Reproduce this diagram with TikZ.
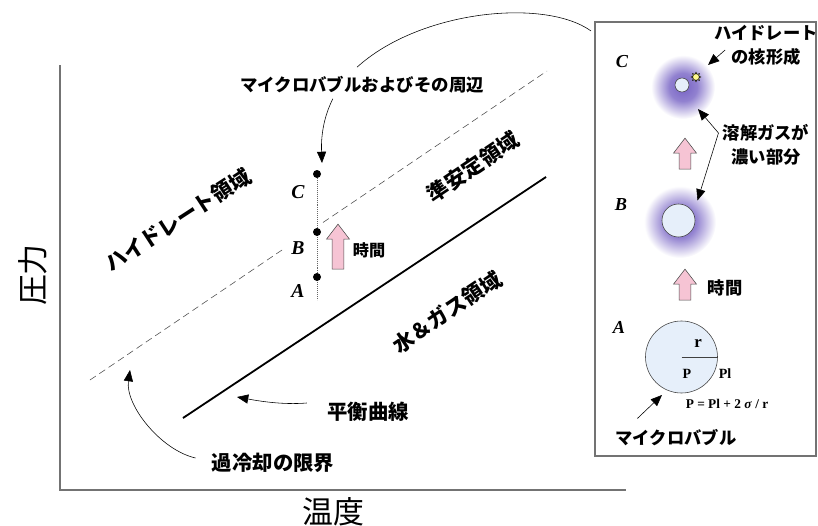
\documentclass[tikz,border=0pt]{standalone}
\usepackage{fontspec}
\setmainfont{Liberation Serif}
\newfontfamily\jp{Noto Sans CJK JP}
\usetikzlibrary{arrows.meta, shapes.arrows, shapes.geometric, calc}

\definecolor{pinkfill}{RGB}{246,196,212}
\definecolor{bubblefill}{RGB}{230,239,250}
\definecolor{glowc}{RGB}{118,98,196}
\pgfdeclareradialshading{glow}{\pgfpoint{0bp}{0bp}}{color(0bp)=(glowc); color(11bp)=(glowc!80!white); color(25bp)=(white); color(50bp)=(white)}

\begin{document}
\begin{tikzpicture}[x = 0.025cm, y = -0.025cm,
		jpb/.style = {font = \jp\bfseries\fontsize{#1}{#1}\selectfont, inner sep = 0},
		jpr/.style = {font = \jp\fontsize{#1}{#1}\selectfont, inner sep = 0},
		letter/.style = {font = \bfseries\itshape\fontsize{#1}{#1}\selectfont, inner sep = 0},
		serif/.style = {font = \bfseries\fontsize{#1}{#1}\selectfont, inner sep = 0},
		dot/.style = {circle, fill, inner sep = 0, minimum size = 0.2cm},
		uparrow/.style = {single arrow, draw = black!70, fill = pinkfill, rotate = 90, inner sep = 0.14cm, single arrow head extend = 0.14cm, single arrow tip angle = 75, minimum height = #1},
		bubble/.style = {circle, draw = black!75, fill = bubblefill, inner sep = 0, minimum size = #1},
		pointer/.style = {-{Triangle[length = 8pt, width = 6.5pt]}, thin},
		axis/.style = {draw = black!55, line width = 1.2pt}]
	\useasboundingbox (0, 0) rectangle (818, 526);

	% glows round the bubbles
	\shade[shading = glow] (683, 87) circle (32);
	\shade[shading = glow] (680, 222) circle (36);

	% axes
	\coordinate (o) at (60, 490);
	\draw[axis] (60, 65) -- (o) -- (626, 490);
	\node[jpr = 22, rotate = 90] (ylab) at (33, 275) {圧力};
	\node[jpr = 22] (xlab) at (333, 512) {温度};

	% equilibrium curve and supercooling limit
	\draw[line width = 1.3pt] (183, 418) -- (546, 177);
	\draw[black!70, dash pattern = on 5pt off 3pt] (90, 380) -- (282, 250) (323, 222.5) -- (547, 71);

	\node[jpb = 15, rotate = 33] (hr) at (178, 220) {ハイドレート領域};
	\node[jpb = 15, rotate = 34] (ms) at (473, 167) {準安定領域};
	\node[jpb = 15, rotate = 34] (wg) at (447, 312) {水＆ガス領域};

	% path of a bubble
	\draw[densely dotted, black!60] (317, 174) -- (317, 300);
	\foreach \n/\y in {A/277, B/232, C/174}
		\node[dot] (d\n) at (317, \y) {};
	\foreach \n/\y in {A/291, B/248, C/192}
		\node[letter = 14] (l\n) at (298, \y) {\n};
	\node[uparrow = 1.125cm] (up1) at (338, 250.5) {};
	\node[jpb = 11.5] (t1) at (369, 250) {時間};

	\node[jpb = 12.4] (mbs) at (362, 85) {マイクロバブルおよびその周辺};
	\draw[pointer] ($(mbs.south west) + (93, 5)$) .. controls +(-10, 20) and +(-1, -25) .. ($(dC) + (5, -11)$);

	\node[jpb = 14.5] (eq) at (368, 412) {平衡曲線};
	\coordinate (eqp) at (237, 397);
	\draw[pointer] ($(eq.west) + (-20, -9)$) .. controls +(-25, 2) and +(22, 4) .. (eqp);

	\node[jpb = 14.5] (sc) at (273, 463) {過冷却の限界};
	\coordinate (scp) at (130, 370);
	\draw[pointer] ($(sc.west) + (-16, -5)$) .. controls +(-35, -8) and +(-5, 35) .. (scp);

	% close-up box
	\node[draw = black!55, line width = 1.5pt, inner sep = 0, minimum width = 5.525cm, minimum height = 10.85cm] (box) at (705.5, 239) {};
	\draw[thin] ($(mbs.north) + (-5, -9)$) .. controls (420, 10) and (545, -2) .. ($(box.north west) + (-3, 10)$);

	\node[letter = 13] (bl3) at (622, 62) {C};
	\node[letter = 13] (bl2) at (621, 205) {B};
	\node[letter = 13] (bl1) at (619, 327) {A};

	\node[bubble = 0.35cm] (bC) at (682, 85) {};
	\node[star, star points = 8, star point ratio = 1.7, draw, thin, fill = yellow!45, inner sep = 0, minimum size = 0.24cm] (nuc) at (696, 77) {};
	\node[bubble = 0.825cm] (bB) at (678.5, 220.5) {};
	\node[bubble = 1.8cm] (bA) at (681.5, 357) {};

	\node[jpb = 12.3] (hyd1) at (766, 33) {ハイドレート};
	\node[jpb = 12.3] (hyd2) at (766, 57) {の核形成};
	\draw[pointer] ($(hyd2.west) + (-6, -7)$) -- ($(nuc) + (12, -12)$);

	\node[jpb = 12.3] (gas1) at (766, 133) {溶解ガスが};
	\node[jpb = 12.3] (gas2) at (766, 157) {濃い部分};
	\coordinate (g) at ($(gas1.west) + (-4, 0)$);
	\draw[pointer] (g) -- ($(bC) + (16, 24)$);
	\draw[pointer] (g) -- ($(bB) + (19, -20)$);

	\node[uparrow = 0.775cm] (up2) at (685, 157.5) {};
	\node[uparrow = 0.775cm] (up3) at (685, 288.5) {};
	\node[jpb = 12.3] (t2) at (725, 288) {時間};

	\draw[black!75] (bA.center) -- (bA.east);
	\node[serif = 12] (rr) at (698, 344) {r};
	\node[serif = 10] (pp) at (687, 374) {P};
	\node[serif = 10] (pl) at (725, 374) {Pl};
	\node[serif = 9.5] (law) at (727, 404) {P = Pl + 2 \textit{σ} / r};

	\node[jpb = 12.3] (mb) at (676, 438) {マイクロバブル};
	\draw[pointer] ($(mb.north west) + (22, -11)$) -- ($(bA) + (-19.5, 38)$);
\end{tikzpicture}
\end{document}
